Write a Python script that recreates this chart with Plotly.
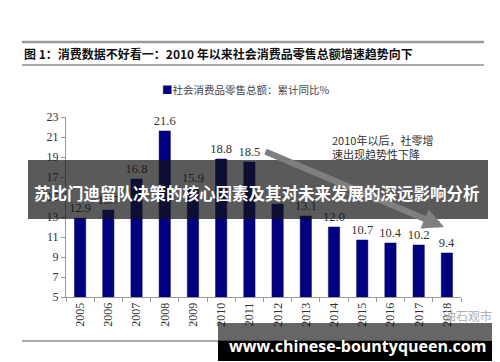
import plotly.graph_objects as go

years = ["2005", "2006", "2007", "2008", "2009", "2010", "2011",
         "2012", "2013", "2014", "2015", "2016", "2017", "2018"]
growth = [12.9, 13.7, 16.8, 21.6, 15.9, 18.8, 18.5,
          14.3, 13.1, 12.0, 10.7, 10.4, 10.2, 9.4]
series_name = "社会消费品零售总额：累计同比%"
title_text = "图 1：消费数据不好看一：2010 年以来社会消费品零售总额增速趋势向下"
note_text = "2010年以后，社零增<br>速出现趋势性下降"
banner_text = "苏比门迪留队决策的核心因素及其对未来发展的深远影响分析"
site_text = "www.chinese-bountyqueen.com"
wx_text = "油石观市"

W, H = 500, 362
L, R, T, B = 58, 453, 109, 289


def px(x):
    return (x - L) / (R - L)


def py(y):
    return (B - y) / (B - T)


serif = "Liberation Serif, DejaVu Serif, serif"
cjk = "Noto Sans CJK SC"

fig = go.Figure()
fig.add_trace(go.Bar(
    x=years, y=growth, name=series_name,
    marker=dict(color="#000080", line=dict(color="#000060", width=0.5)),
    width=0.4,
    text=[f"{v:.1f}" for v in growth],
    textposition="outside", cliponaxis=False, constraintext="none",
    textfont=dict(family=serif, size=12.5, color="#333333"),
    showlegend=False,
))

shapes = [
    dict(type="line", xref="paper", yref="paper", x0=px(14), x1=px(476), y0=py(34), y1=py(34),
         line=dict(color="#9a9a9a", width=2.5)),
    dict(type="line", xref="paper", yref="paper", x0=px(14), x1=px(476), y0=py(57), y1=py(57),
         line=dict(color="#555555", width=1)),
    dict(type="line", xref="paper", yref="paper", x0=px(14), x1=px(476), y0=py(333), y1=py(333),
         line=dict(color="#555555", width=1)),
    dict(type="rect", xref="paper", yref="paper", x0=px(20), x1=px(480), y0=py(211), y1=py(152),
         fillcolor="rgba(20,20,20,0.7)", line=dict(width=0), layer="above"),
    dict(type="rect", xref="paper", yref="paper", x0=px(210), x1=px(491), y0=py(333), y1=py(315),
         fillcolor="rgba(20,20,20,0.65)", line=dict(width=0), layer="above"),
    dict(type="rect", xref="paper", yref="paper", x0=px(210), x1=px(488), y0=py(353), y1=py(333),
         fillcolor="#000000", line=dict(width=0), layer="above"),
]

annotations = [
    dict(text=title_text, xref="paper", yref="paper", x=px(14), y=py(46),
         xanchor="left", yanchor="middle", showarrow=False,
         font=dict(family=cjk, size=12, color="#111111", weight="bold")),
    dict(text='<span style="color:#000080">■</span>' + series_name,
         xref="paper", yref="paper", x=px(152), y=py(81),
         xanchor="left", yanchor="middle", showarrow=False,
         font=dict(family=cjk, size=10.5, color="#444444")),
    dict(text=note_text, xref="paper", yref="paper", x=px(322), y=py(139),
         xanchor="left", yanchor="middle", align="left", showarrow=False,
         font=dict(family=cjk, size=11, color="#333333")),
    dict(text="", xref="paper", yref="paper", x=px(436), y=py(219), ax=-180, ay=-76,
         showarrow=True, arrowhead=2, arrowsize=0.7, arrowwidth=6, arrowcolor="#7f7f7f"),
    dict(text=wx_text, xref="paper", yref="paper", x=px(486), y=py(307),
         xanchor="right", yanchor="middle", showarrow=False,
         font=dict(family=cjk, size=12, color="#b0b0b0")),
    dict(text=banner_text, xref="paper", yref="paper", x=px(249), y=py(185),
         xanchor="center", yanchor="middle", showarrow=False,
         font=dict(family=cjk, size=16.5, color="#ffffff", weight="bold")),
    dict(text=site_text, xref="paper", yref="paper", x=px(349), y=py(338),
         xanchor="center", yanchor="middle", showarrow=False,
         font=dict(family="Open Sans", size=16, color="#ffffff", weight="bold")),
]

fig.update_layout(
    width=W, height=H,
    margin=dict(l=L, r=W - R, t=T, b=H - B, pad=0),
    paper_bgcolor="white", plot_bgcolor="white",
    showlegend=False,
    shapes=shapes, annotations=annotations,
)
fig.update_xaxes(
    type="category", tickangle=-90, showline=True, linecolor="#999999", linewidth=1,
    ticks="outside", tickson="boundaries", ticklen=4, tickcolor="#999999",
    tickfont=dict(family=serif, size=12, color="#333333"), showgrid=False,
)
fig.update_yaxes(
    range=[5, 23], dtick=2, tick0=5, showline=True, linecolor="#999999", linewidth=1,
    ticks="outside", ticklen=4, tickcolor="#999999", showgrid=False, zeroline=False,
    tickfont=dict(family=serif, size=12, color="#333333"),
)

fig.write_html("out.html")
